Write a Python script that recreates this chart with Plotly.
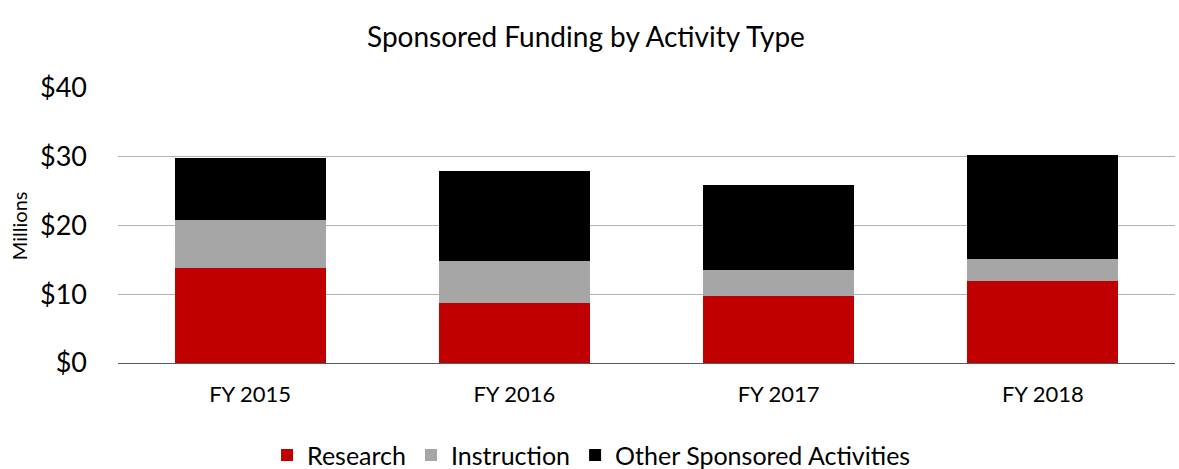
import plotly.graph_objects as go

categories = ["FY 2015", "FY 2016", "FY 2017", "FY 2018"]
research = [13.8, 8.7, 9.7, 11.9]
instruction = [7.0, 6.1, 3.8, 3.2]
other = [9.0, 13.1, 12.4, 15.1]
tick_vals = [0, 10, 20, 30, 40]
tick_text = ["$0", "$10", "$20", "$30", "$40"]

FONT = "Lato, 'Open Sans', sans-serif"

fig = go.Figure()
fig.add_bar(x=categories, y=research, name="Research", marker_color="#C00000",
            marker_line_width=0)
fig.add_bar(x=categories, y=instruction, name="Instruction", marker_color="#A6A6A6",
            marker_line_width=0)
fig.add_bar(x=categories, y=other, name="Other Sponsored Activities", marker_color="#000000",
            marker_line_width=0)

fig.update_layout(
    barmode="stack",
    bargap=0.428,
    width=1179, height=469,
    margin=dict(l=118, r=4, t=88, b=106, autoexpand=False),
    paper_bgcolor="white", plot_bgcolor="white",
    font=dict(family=FONT, color="#000000"),
    title=dict(text="Sponsored Funding by Activity Type", x=0.497, xref="container",
               xanchor="center", y=0.921, yref="container", yanchor="middle",
               font=dict(size=28, family=FONT, color="#000000")),
    legend=dict(orientation="h", x=0.448, xanchor="center", y=-0.335, yanchor="middle",
                font=dict(size=25, family=FONT), traceorder="normal"),
    showlegend=True,
)
fig.update_xaxes(showgrid=False, showline=False, ticks="", ticklabelstandoff=16,
                 tickfont=dict(size=22, family=FONT))
fig.update_yaxes(range=[0, 40], tickvals=tick_vals, ticktext=tick_text,
                 showgrid=True, gridcolor="#B3B3B3", gridwidth=1,
                 zeroline=True, zerolinecolor="#595959", zerolinewidth=1,
                 showline=False, ticks="", ticklabelstandoff=30,
                 tickfont=dict(size=27, family=FONT))
fig.add_annotation(text="Millions", xref="paper", yref="paper", x=-0.094, y=0.5,
                   xanchor="center", yanchor="middle",
                   textangle=-90, showarrow=False, font=dict(size=20, family=FONT))

fig.write_html("out.html")
